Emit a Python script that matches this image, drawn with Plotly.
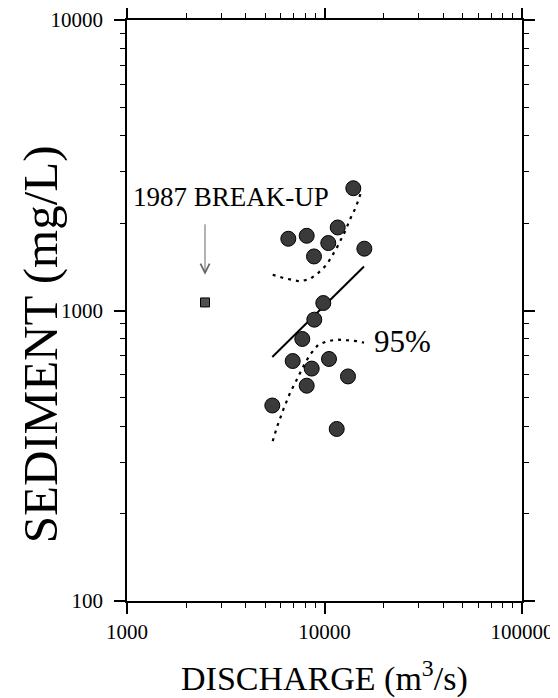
import numpy as np
import plotly.graph_objects as go

# ---- data ----
discharge = [13990, 11665, 6557, 8126, 10450, 8847, 15910, 9860, 8880,
             7720, 6902, 8614, 10540, 13150, 8126, 5441, 11530]
sediment = [2636, 1931, 1766, 1808, 1707, 1535, 1632, 1061, 930,
            798, 670, 631, 681, 593, 551, 471, 391]

breakup_discharge = [2483]
breakup_sediment = [1066]

fit_discharge = [5441, 15850]
fit_sediment = [692, 1418]

upper_discharge = [5466, 6185, 7516, 8446, 9303, 10260, 11530, 12700, 13560, 14270, 14830, 15430]
upper_sediment = [1328, 1294, 1259, 1283, 1346, 1437, 1640, 1871, 2081, 2234, 2391, 2602]

lower_discharge = [5466, 5768, 6185, 6688, 7233, 7809, 8446, 9303, 10260, 11530, 12955, 14555, 15850]
lower_sediment = [355, 400, 456, 520, 578, 642, 705, 763, 783, 794, 790, 784, 775]

x_tickvals = [1000, 10000, 100000]
x_ticktext = ["1000", "10000", "100000"]
y_tickvals = [100, 1000, 10000]
y_ticktext = ["100", "1000", "10000"]

arrow_top = 2005
arrow_tip = 1327

FONT = "Liberation Serif"

fig = go.Figure()

fig.add_trace(go.Scatter(x=upper_discharge, y=upper_sediment, mode="lines",
                         line=dict(color="black", width=2.2, dash="3px,5px")))
fig.add_trace(go.Scatter(x=lower_discharge, y=lower_sediment, mode="lines",
                         line=dict(color="black", width=2.2, dash="3px,5px")))
fig.add_trace(go.Scatter(x=fit_discharge, y=fit_sediment, mode="lines",
                         line=dict(color="black", width=2)))
fig.add_trace(go.Scatter(x=discharge, y=sediment, mode="markers",
                         marker=dict(symbol="circle", size=15, color="#3a3a3a",
                                     line=dict(color="black", width=1))))
fig.add_trace(go.Scatter(x=breakup_discharge, y=breakup_sediment, mode="markers",
                         marker=dict(symbol="square", size=9, color="#505050",
                                     line=dict(color="black", width=1))))

axis_common = dict(
    type="log", showgrid=False, zeroline=False, automargin=False,
    showline=True, linecolor="black", linewidth=1.5, mirror="ticks",
    ticks="outside", ticklen=11, tickwidth=1.5, tickcolor="black",
    minor=dict(ticks="outside", ticklen=5, tickwidth=1.2, tickcolor="black",
               dtick="D1", showgrid=False),
    tickfont=dict(family=FONT, size=21, color="black"),
    ticklabeloverflow="allow",
)

fig.update_xaxes(range=[3, 5], tickvals=x_tickvals, ticktext=x_ticktext,
                 ticklabelstandoff=0, **axis_common)
fig.update_yaxes(range=[2, 4], tickvals=y_tickvals, ticktext=y_ticktext,
                 ticklabelstandoff=7, **axis_common)

fig.add_annotation(x=np.log10(breakup_discharge[0]), y=np.log10(arrow_tip),
                   ax=np.log10(breakup_discharge[0]), ay=np.log10(arrow_top),
                   xref="x", yref="y", axref="x", ayref="y",
                   text="", showarrow=True, arrowhead=5, arrowsize=1.8,
                   arrowwidth=1, arrowcolor="#666666", standoff=0)

fig.add_annotation(x=np.log10(3362), y=np.log10(2460), xref="x", yref="y",
                   text="1987 BREAK-UP", showarrow=False,
                   xanchor="center", yanchor="middle",
                   font=dict(family=FONT, size=27, color="black"))

fig.add_annotation(x=np.log10(17400), y=np.log10(782), xref="x", yref="y",
                   text="95%", showarrow=False,
                   xanchor="left", yanchor="middle",
                   font=dict(family=FONT, size=31, color="black"))

fig.add_annotation(x=-0.220, y=0.442, xref="paper", yref="paper",
                   text="SEDIMENT (mg/L)", showarrow=False, textangle=-90,
                   xanchor="center", yanchor="middle",
                   font=dict(family=FONT, size=49, color="black"))

fig.add_annotation(x=0.5, y=-0.170, xref="paper", yref="paper",
                   text="DISCHARGE (m<sup>3</sup>/s)", showarrow=False,
                   xanchor="center", yanchor="bottom",
                   font=dict(family=FONT, size=34, color="black"))

# the page places the figure 8px in from the window's corner
fig.update_layout(width=550, height=690, showlegend=False,
                  margin=dict(l=119, r=36, t=12, b=97),
                  plot_bgcolor="white", paper_bgcolor="white")

fig.write_html("out.html")
